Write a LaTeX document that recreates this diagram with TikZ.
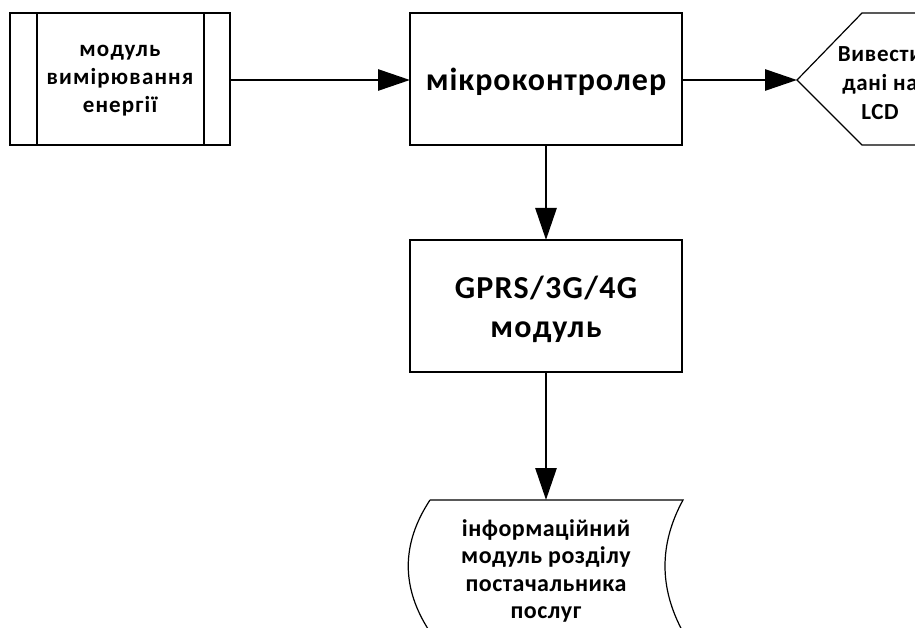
\documentclass[tikz,border=0pt]{standalone}
\usepackage{fontspec}
\setmainfont{Carlito}
\newfontfamily\spacedA[LetterSpace=5]{Carlito}
\newfontfamily\spacedB[LetterSpace=3]{Carlito}
\newfontfamily\spacedC[LetterSpace=4]{Carlito}
\newfontfamily\spacedD[LetterSpace=2]{Carlito}
\newfontfamily\spacedE[LetterSpace=3]{Carlito}
\usetikzlibrary{arrows.meta}
\begin{document}
\begin{tikzpicture}[x=1pt,y=-1pt,
  box/.style={draw=black,line width=1.2pt},
  thickbox/.style={draw=black,line width=2.4pt},
  label/.style={align=center,inner sep=0pt},
  flow/.style={line width=2.8pt,-{Triangle[length=32pt,width=21pt]}}]
\useasboundingbox (0,0) rectangle (915,628);
\clip (0,0) rectangle (915,628);
% predefined process: energy measurement module
\draw[thickbox] (10,13) rectangle (230,145);
\draw[thickbox] (37,13) -- (37,145);
\draw[thickbox] (204,13) -- (204,145);
\node[label,font=\spacedA\fontsize{23}{28}\selectfont\bfseries] (meas) at (120,81)
  {модуль\\вимірювання\\енергії};
\coordinate (measE) at (230,80);
% microcontroller
\draw[box] (410,13) rectangle (682,145);
\node[label,font=\spacedB\fontsize{32}{36}\selectfont\bfseries] (mcu) at (546,82) {мікроконтролер};
\coordinate (mcuW) at (410,80);
\coordinate (mcuE) at (682,80);
\coordinate (mcuS) at (546,145);
% display
\draw[box] (930,13) -- (862,13) -- (797,80) -- (862,145) -- (930,145);
\node[label,font=\spacedE\fontsize{23}{29}\selectfont\bfseries] (lcd) at (880,83) {Вивести\\дані на\\LCD};
\coordinate (lcdW) at (797,80);
% GPRS modem
\draw[box] (410,240) rectangle (682,372);
\node[label,font=\spacedC\fontsize{32}{39}\selectfont\bfseries] (gprs) at (546,309) {GPRS/3G/4G\\модуль};
\coordinate (gprsN) at (546,240);
\coordinate (gprsS) at (546,372);
% stored data: provider information module
\draw[box] (430,500) -- (683,500)
  .. controls (659,544) and (659,588) .. (683,632)
  -- (430,632)
  .. controls (401,588) and (401,544) .. (430,500);
\node[label,font=\spacedD\fontsize{24}{27.5}\selectfont\bfseries] (info) at (546,571)
  {інформаційний\\модуль розділу\\постачальника\\послуг};
\coordinate (infoN) at (546,500);
% connectors
\draw[flow] (measE) -- (mcuW);
\draw[flow] (mcuE) -- (lcdW);
\draw[flow] (mcuS) -- (gprsN);
\draw[flow] (gprsS) -- (infoN);
\end{tikzpicture}
\end{document}
